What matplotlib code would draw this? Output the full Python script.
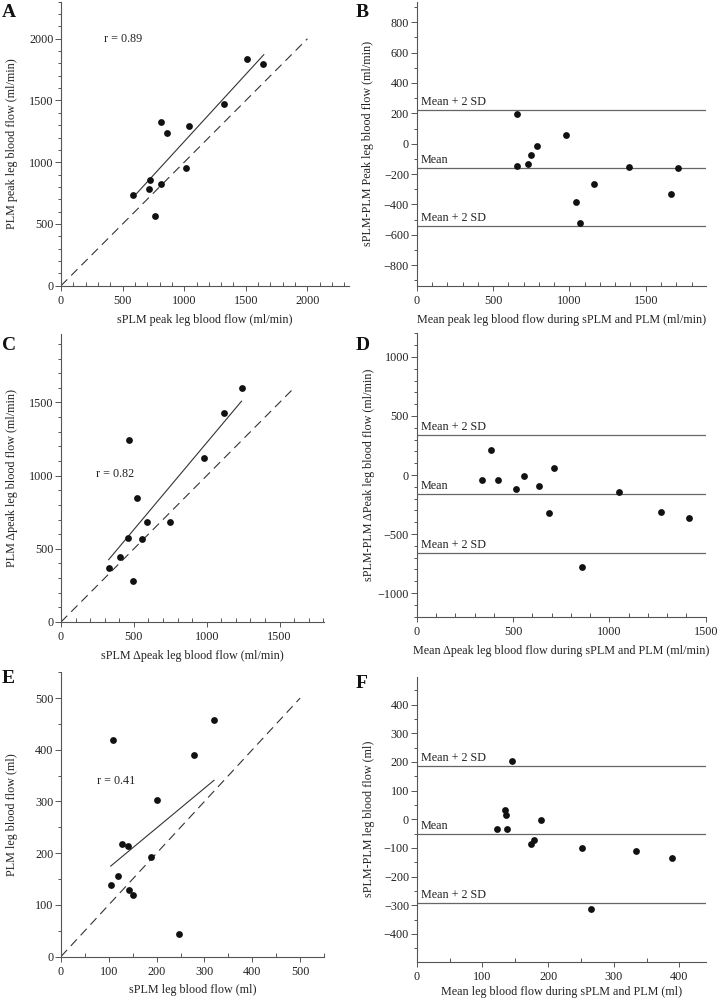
import matplotlib
matplotlib.use("Agg")
import matplotlib.pyplot as plt
import numpy as np
from matplotlib.ticker import MultipleLocator

plt.rcParams['font.family'] = ['Liberation Serif', 'DejaVu Serif']
plt.rcParams['axes.unicode_minus'] = True

# ---- data ----
# A: peak leg blood flow, sPLM vs PLM (ml/min)
a_splm = [586, 716, 724, 811, 765, 814, 857, 1035, 1014, 1319, 1508, 1643]
a_plm = [733, 787, 860, 822, 566, 1329, 1237, 1296, 954, 1469, 1836, 1798]
a_fit_x = [614, 1646]
a_fit_y = [747, 1871]

# B: Bland-Altman, peak flow
b_mean = [659, 657, 747, 786, 727, 980, 1044, 1068, 1159, 1389, 1664, 1712]
b_diff = [197, -149, -77, -15, -136, 57, -381, -519, -263, -153, -331, -160]
b_lines = [224, -160, -544]

# C: delta peak leg blood flow (ml/min)
c_splm = [327, 403, 495, 458, 467, 554, 524, 589, 747, 982, 1120, 1239]
c_plm = [369, 444, 283, 572, 1247, 565, 846, 684, 684, 1119, 1429, 1598]
c_fit_x = [327, 1239]
c_fit_y = [426, 1509]

# D: Bland-Altman, delta peak
d_mean = [340, 388, 424, 516, 557, 637, 713, 685, 856, 1048, 1270, 1412]
d_diff = [-42, 212, -42, -116, -8, -93, 62, -319, -777, -141, -311, -362]
d_lines = [336, -161, -664]

# E: leg blood flow (ml)
e_splm = [104, 120, 127, 141, 109, 143, 150, 188, 200, 247, 279, 320]
e_plm = [139, 155, 217, 213, 419, 128, 119, 192, 302, 43, 389, 457]
e_fit_x = [104, 320]
e_fit_y = [175, 341]

# F: Bland-Altman, leg blood flow
f_mean = [122, 135, 136, 138, 145, 174, 178, 190, 252, 265, 334, 389]
f_diff = [-35, 33, 15, -35, 203, -88, -71, -3, -102, -312, -110, -136]
f_lines = [184, -52, -292]

line_labels = ['Mean + 2 SD', 'Mean', 'Mean + 2 SD']

W, H = 717, 999
fig = plt.figure(figsize=(W / 100, H / 100), dpi=100)

AX_COL = '#555555'
TXT = '#222222'
FS = 8.7


def make_ax(left, top, right, bottom, ylab_px):
    ax = fig.add_axes([left / W, 1 - bottom / H, (right - left) / W, (bottom - top) / H])
    for s in ['top', 'right']:
        ax.spines[s].set_visible(False)
    for s in ['left', 'bottom']:
        ax.spines[s].set_color(AX_COL)
        ax.spines[s].set_linewidth(0.8)
    ax.tick_params(axis='both', which='both', colors=AX_COL, labelcolor=TXT,
                   labelsize=FS, width=0.7)
    ax.tick_params(axis='y', which='major', direction='out', length=4, pad=1.5)
    ax.tick_params(axis='y', which='minor', direction='out', length=2.5)
    ax.tick_params(axis='x', which='major', direction='out', length=3.5, pad=3)
    ax.tick_params(axis='x', which='minor', direction='in', length=3)
    ax.set_facecolor('none')
    # y label placed at a fixed horizontal position (right edge of rotated text)
    ax.yaxis.set_label_coords((ylab_px - left) / (right - left), 0.5)
    return ax


def scatter_panel(ax, x, y, fx, fy, ident, r_text, r_pos):
    ax.plot([0, ident], [0, ident], color='#333333', lw=0.8, dashes=(8, 5))
    ax.plot(fx, fy, color='#333333', lw=0.8)
    ax.scatter(x, y, s=24, color='#111111', zorder=3, linewidths=0)
    ax.text(r_pos[0], r_pos[1], r_text, fontsize=FS, color=TXT, va='center', ha='left')


def ba_panel(ax, x, y, lines):
    for val, lab in zip(lines, line_labels):
        ax.axhline(val, color='#666666', lw=0.9)
        ax.annotate(lab, xy=(0, val), xycoords=('axes fraction', 'data'),
                    xytext=(3, 1.5), textcoords='offset points',
                    fontsize=FS, color=TXT, va='bottom', ha='left')
    ax.scatter(x, y, s=24, color='#111111', zorder=3, linewidths=0)


# A
ax = make_ax(61, 1.7, 349.3, 285.7, 18)
scatter_panel(ax, a_splm, a_plm, a_fit_x, a_fit_y, 2000, 'r = 0.89', (345, 2000))
ax.set_xlim(0, 2340)
ax.set_ylim(0, 2300)
ax.xaxis.set_major_locator(MultipleLocator(500))
ax.xaxis.set_minor_locator(MultipleLocator(100))
ax.yaxis.set_major_locator(MultipleLocator(500))
ax.yaxis.set_minor_locator(MultipleLocator(100))
ax.set_xlabel('sPLM peak leg blood flow (ml/min)', fontsize=FS, color=TXT, labelpad=5)
ax.set_ylabel('PLM peak leg blood flow (ml/min)', fontsize=FS, color=TXT)

# B
ax = make_ax(416.7, 1.7, 705.7, 285.7, 374)
ba_panel(ax, b_mean, b_diff, b_lines)
ax.set_xlim(0, 1893)
ax.set_ylim(-935, 935)
ax.xaxis.set_major_locator(MultipleLocator(500))
ax.xaxis.set_minor_locator(MultipleLocator(100))
ax.yaxis.set_major_locator(MultipleLocator(200))
ax.yaxis.set_minor_locator(MultipleLocator(100))
ax.set_xlabel('Mean peak leg blood flow during sPLM and PLM (ml/min)', fontsize=FS, color=TXT, labelpad=5)
ax.set_ylabel('sPLM-PLM Peak leg blood flow (ml/min)', fontsize=FS, color=TXT)

# C
ax = make_ax(61, 334, 324, 622, 18)
scatter_panel(ax, c_splm, c_plm, c_fit_x, c_fit_y, 1600, 'r = 0.82', (240, 1010))
ax.set_xlim(0, 1805)
ax.set_ylim(0, 1968)
ax.xaxis.set_major_locator(MultipleLocator(500))
ax.xaxis.set_minor_locator(MultipleLocator(100))
ax.yaxis.set_major_locator(MultipleLocator(500))
ax.yaxis.set_minor_locator(MultipleLocator(100))
ax.set_xlabel('sPLM \u0394peak leg blood flow (ml/min)', fontsize=FS, color=TXT, labelpad=5)
ax.set_ylabel('PLM \u0394peak leg blood flow (ml/min)', fontsize=FS, color=TXT)

# D
ax = make_ax(416.7, 333.3, 705.7, 616.7, 375)
ba_panel(ax, d_mean, d_diff, d_lines)
ax.set_xlim(0, 1500)
ax.set_ylim(-1200, 1200)
ax.xaxis.set_major_locator(MultipleLocator(500))
ax.xaxis.set_minor_locator(MultipleLocator(100))
ax.yaxis.set_major_locator(MultipleLocator(500))
ax.yaxis.set_minor_locator(MultipleLocator(100))
ax.set_xlabel('Mean \u0394peak leg blood flow during sPLM and PLM (ml/min)', fontsize=FS, color=TXT, labelpad=5)
ax.set_ylabel('sPLM-PLM \u0394Peak leg blood flow (ml/min)', fontsize=FS, color=TXT)

# E
ax = make_ax(61, 672.3, 324, 956.5, 18)
scatter_panel(ax, e_splm, e_plm, e_fit_x, e_fit_y, 500, 'r = 0.41', (75, 340))
ax.set_xlim(0, 550)
ax.set_ylim(0, 550)
ax.xaxis.set_major_locator(MultipleLocator(100))
ax.xaxis.set_minor_locator(MultipleLocator(50))
ax.yaxis.set_major_locator(MultipleLocator(100))
ax.yaxis.set_minor_locator(MultipleLocator(50))
ax.set_xlabel('sPLM leg blood flow (ml)', fontsize=FS, color=TXT, labelpad=5)
ax.set_ylabel('PLM leg blood flow (ml)', fontsize=FS, color=TXT)

# F
ax = make_ax(416.7, 676.7, 705.7, 961.7, 375)
ba_panel(ax, f_mean, f_diff, f_lines)
ax.set_xlim(0, 440)
ax.set_ylim(-497, 497)
ax.xaxis.set_major_locator(MultipleLocator(100))
ax.xaxis.set_minor_locator(MultipleLocator(50))
ax.yaxis.set_major_locator(MultipleLocator(100))
ax.yaxis.set_minor_locator(MultipleLocator(50))
ax.set_xlabel('Mean leg blood flow during sPLM and PLM (ml)', fontsize=FS, color=TXT, labelpad=2.5)
ax.set_ylabel('sPLM-PLM leg blood flow (ml)', fontsize=FS, color=TXT)

# panel letters
for letter, (px, py) in zip('ABCDEF', [(2, 17), (356, 17), (2, 350), (356, 350),
                                       (2, 683), (356, 688)]):
    fig.text(px / W, 1 - py / H, letter, fontsize=14, fontweight='bold',
             color='#111111', ha='left', va='baseline')

fig.savefig('out.png', dpi=100)
